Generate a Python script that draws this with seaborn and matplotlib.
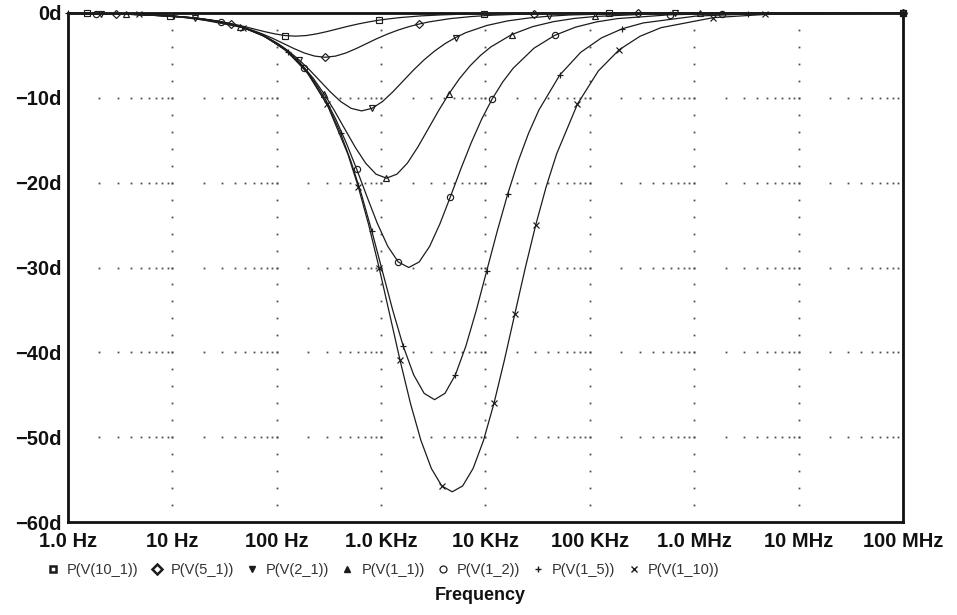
import matplotlib
matplotlib.use('Agg')
import matplotlib.pyplot as plt
import seaborn as sns
from matplotlib.lines import Line2D
from matplotlib.ticker import NullLocator

# phase traces (frequency in Hz, phase in degrees)
f_10_1 = [1.0, 1.517, 2.404, 3.811, 6.039, 9.572, 15.17, 19.10, 24.04, 30.27, 38.11, 47.97, 60.39,
          76.03, 95.72, 120.5, 151.7, 191.0, 240.4, 302.7, 381.1, 479.7, 603.9, 760.3, 957.2, 1205,
          1517, 2404, 3811, 6039, 9572, 15170, 47970, 151700, 1e8]
p_10_1 = [-0.04, -0.05, -0.09, -0.14, -0.22, -0.34, -0.54, -0.68, -0.84, -1.05, -1.29, -1.57, -1.88,
          -2.19, -2.46, -2.66, -2.73, -2.66, -2.46, -2.19, -1.88, -1.57, -1.29, -1.05, -0.84, -0.68,
          -0.54, -0.34, -0.22, -0.14, -0.09, -0.05, -0.02, -0.01, 0.0]

f_5_1 = [1.0, 2.905, 4.604, 7.297, 11.57, 18.33, 29.05, 36.57, 46.04, 57.96, 72.97, 91.86, 115.7,
         145.6, 183.3, 230.8, 290.5, 365.7, 460.4, 579.6, 729.7, 918.6, 1157, 1456, 1833, 2308,
         2905, 4604, 7297, 11570, 18330, 29050, 91860, 290500, 1e8]
p_5_1 = [-0.04, -0.10, -0.17, -0.26, -0.42, -0.66, -1.04, -1.30, -1.62, -2.01, -2.47, -3.00, -3.59,
         -4.18, -4.71, -5.08, -5.22, -5.08, -4.71, -4.18, -3.59, -3.00, -2.47, -2.01, -1.62, -1.30,
         -1.04, -0.66, -0.42, -0.26, -0.17, -0.10, -0.03, -0.01, 0.0]

f_2_1 = [1.0, 2.055, 6.497, 10.30, 16.32, 25.87, 40.99, 64.97, 81.79, 103.0, 129.6, 163.2, 205.5,
         258.7, 325.6, 409.9, 516.1, 649.7, 817.9, 1030, 1296, 1632, 2055, 2587, 3256, 4099, 5161,
         6497, 10300, 16320, 25870, 40990, 64970, 205500, 649700, 1e8]
p_2_1 = [-0.04, -0.07, -0.23, -0.37, -0.59, -0.93, -1.47, -2.31, -2.90, -3.61, -4.48, -5.51, -6.69,
         -7.99, -9.29, -10.44, -11.24, -11.54, -11.24, -10.44, -9.29, -7.99, -6.69, -5.51, -4.48,
         -3.61, -2.90, -2.31, -1.47, -0.93, -0.59, -0.37, -0.23, -0.07, -0.02, 0.0]

f_1_1 = [1.0, 3.559, 11.25, 17.84, 28.27, 44.80, 71.01, 112.5, 141.7, 178.4, 224.6, 282.7, 355.9,
         448.0, 564.0, 710.1, 893.9, 1125, 1417, 1784, 2246, 2827, 3559, 4480, 5640, 7101, 8939,
         11250, 17840, 28270, 44800, 71010, 112500, 355900, 1125000, 1e8]
p_1_1 = [-0.04, -0.13, -0.41, -0.64, -1.02, -1.61, -2.54, -4.00, -5.01, -6.24, -7.73, -9.49, -11.49,
         -13.66, -15.81, -17.70, -19.00, -19.47, -19.00, -17.70, -15.81, -13.66, -11.49, -9.49,
         -7.73, -6.24, -5.01, -4.00, -2.54, -1.61, -1.02, -0.64, -0.41, -0.13, -0.04, 0.0]

f_1_2 = [1.0, 1.838, 5.811, 18.38, 29.13, 46.16, 73.16, 116.0, 183.8, 231.4, 291.3, 366.7, 461.6,
         581.1, 731.6, 921.0, 1160, 1460, 1838, 2314, 2913, 3667, 4616, 5811, 7316, 9210, 11600,
         14600, 18380, 29130, 46160, 73160, 116000, 183800, 581100, 1838000, 1e8]
p_1_2 = [-0.04, -0.07, -0.21, -0.66, -1.05, -1.66, -2.63, -4.15, -6.52, -8.14, -10.12, -12.49,
         -15.26, -18.36, -21.64, -24.82, -27.52, -29.35, -30.00, -29.35, -27.52, -24.82, -21.64,
         -18.36, -15.26, -12.49, -10.12, -8.14, -6.52, -4.15, -2.63, -1.66, -1.05, -0.66, -0.21,
         -0.07, 0.0]

f_1_5 = [1.0, 3.249, 10.27, 32.49, 51.49, 81.60, 129.3, 205.0, 324.9, 409.0, 514.9, 648.2, 816.0,
         1027, 1293, 1628, 2050, 2581, 3249, 4090, 5149, 6482, 8160, 10270, 12930, 16280, 20500,
         25810, 32490, 51490, 81600, 129300, 205000, 324900, 1027000, 3249000, 1e8]
p_1_5 = [-0.04, -0.12, -0.37, -1.17, -1.85, -2.93, -4.64, -7.31, -11.43, -14.20, -17.52, -21.39,
         -25.75, -30.40, -35.05, -39.27, -42.65, -44.83, -45.58, -44.83, -42.65, -39.27, -35.05,
         -30.40, -25.75, -21.39, -17.52, -14.20, -11.43, -7.31, -4.64, -2.93, -1.85, -1.17, -0.37,
         -0.12, 0.0]

f_1_10 = [1.0, 4.799, 15.17, 47.99, 76.05, 120.5, 191.0, 302.8, 479.9, 604.1, 760.5, 957.4, 1205,
          1517, 1910, 2405, 3028, 3812, 4799, 6041, 7605, 9574, 12050, 15170, 19100, 24050, 30280,
          38120, 47990, 76050, 120500, 191000, 302800, 479900, 1517000, 4799000, 1e8]
p_1_10 = [-0.04, -0.17, -0.55, -1.73, -2.74, -4.33, -6.83, -10.73, -16.62, -20.49, -24.99, -30.05,
          -35.47, -40.92, -46.02, -50.38, -53.69, -55.75, -56.44, -55.75, -53.69, -50.38, -46.02,
          -40.92, -35.47, -30.05, -24.99, -20.49, -16.62, -10.73, -6.83, -4.33, -2.74, -1.73, -0.55,
          -0.17, -0.01]

trace_names = ['P(V(10_1))', 'P(V(5_1))', 'P(V(2_1))', 'P(V(1_1))', 'P(V(1_2))', 'P(V(1_5))', 'P(V(1_10))']
trace_freqs = [f_10_1, f_5_1, f_2_1, f_1_1, f_1_2, f_1_5, f_1_10]
trace_phases = [p_10_1, p_5_1, p_2_1, p_1_1, p_1_2, p_1_5, p_1_10]
trace_markers = ['s', 'D', 'v', '^', 'o', '+', 'x']

x_ticks = [1, 10, 100, 1e3, 1e4, 1e5, 1e6, 1e7, 1e8]
x_labels = ['1.0 Hz', '10 Hz', '100 Hz', '1.0 KHz', '10 KHz', '100 KHz', '1.0 MHz', '10 MHz', '100 MHz']
y_ticks = [-60, -50, -40, -30, -20, -10, 0]
y_labels = ['\u221260d', '\u221250d', '\u221240d', '\u221230d', '\u221220d', '\u221210d', '0d']

sns.set_theme(style='white')
plt.rcParams['font.family'] = ['Liberation Sans', 'DejaVu Sans']

INK = '#1c1c1c'
fig = plt.figure(figsize=(9.57, 6.15), dpi=100)
ax = fig.add_axes([68 / 957, 1 - 522 / 615, (903 - 68) / 957, (522 - 13) / 615])
ax.set_xscale('log')
ax.set_xlim(1, 1e8)
ax.set_ylim(-60, 0)

# PSpice style dotted grid
inner_dec = x_ticks[1:-1]
minor_x = [k * 10 ** d for d in range(8) for k in range(2, 10)] + inner_dec
for yv in [-10, -20, -30, -40, -50]:
    ax.plot(minor_x, [yv] * len(minor_x), ls='none', marker='s', ms=1.3, mew=0, color='0.3', zorder=1)
dot_y = list(range(-58, 0, 2))
for xv in inner_dec:
    ax.plot([xv] * len(dot_y), dot_y, ls='none', marker='s', ms=1.3, mew=0, color='0.3', zorder=1)

offsets = [0.01, 0.06, 0.03, 0.08, 0.05, 0.02, 0.07]
for name, f, p, m, off in zip(trace_names, trace_freqs, trace_phases, trace_markers, offsets):
    sns.lineplot(x=f, y=p, ax=ax, color=INK, linewidth=0.9, marker=m, markersize=4.5,
                 markevery=(off, 0.105), markerfacecolor='none', markeredgecolor=INK,
                 markeredgewidth=0.85, clip_on=False, sort=False, estimator=None, zorder=3)

ax.set_xticks(x_ticks)
ax.set_xticklabels(x_labels, fontsize=14.5, fontweight='bold', color='#111')
ax.xaxis.set_minor_locator(NullLocator())
ax.set_yticks(y_ticks)
ax.set_yticklabels(y_labels, fontsize=14.5, fontweight='bold', color='#111')
ax.tick_params(axis='x', length=0, pad=7.5)
ax.tick_params(axis='y', length=0, pad=4.5)
ax.set_xlabel('')
ax.set_ylabel('')
for s in ax.spines.values():
    s.set_linewidth(2.0)
    s.set_color('#111')
    s.set_visible(True)

# legend row under the axis
fill = {'s': 'white', 'D': 'white', 'v': INK, '^': INK, 'o': 'none', '+': 'none', 'x': 'none'}
mew = {'s': 1.8, 'D': 1.8, 'v': 1.0, '^': 1.0, 'o': 0.9, '+': 1.0, 'x': 1.0}
handles = [Line2D([], [], ls='none', marker=m, ms=5, mfc=fill[m], mec=INK, mew=mew[m])
           for m in trace_markers]
fig.legend(handles, trace_names, loc='center left', bbox_to_anchor=(47 / 957, 1 - 570 / 615),
           ncol=7, frameon=False, fontsize=10.5, handlelength=0.8, handletextpad=0.55,
           columnspacing=0.85, borderpad=0, borderaxespad=0, labelcolor='#333')

fig.text(480 / 957, 1 - 596 / 615, 'Frequency', ha='center', va='center', fontsize=13,
         fontweight='bold', color='#111')

fig.savefig('out.png', dpi=100)
